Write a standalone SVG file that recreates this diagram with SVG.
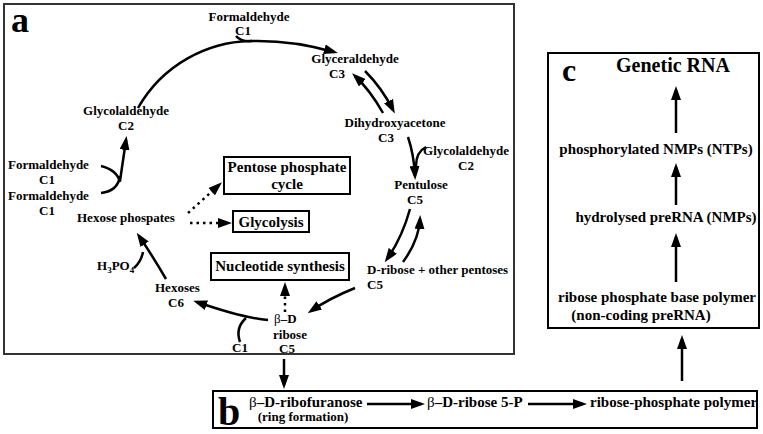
<svg xmlns="http://www.w3.org/2000/svg" width="763" height="434" viewBox="0 0 763 434">
<defs>
<style>
.t{font-family:"Liberation Serif","Times New Roman",serif;font-weight:bold;font-size:13px;fill:#000}
.m{text-anchor:middle}
.bx{font-size:15px}
.big{font-size:36px}
.gr{font-size:20px}
.fr{fill:#fff;stroke:#000;stroke-width:2}
.ln{fill:none;stroke:#000;stroke-width:2.5}
.ar{fill:none;stroke:#000;stroke-width:2.5;marker-end:url(#ah)}
.dt{fill:none;stroke:#000;stroke-width:2.5;stroke-dasharray:2.5 4;marker-end:url(#ah)}
.reg{font-weight:normal}
.sub{font-size:9px}
</style>
<marker id="ah" viewBox="0 0 14 10" refX="10" refY="5" markerWidth="14" markerHeight="10" markerUnits="userSpaceOnUse" orient="auto">
<path d="M0,0 L14,5 L0,10 z" fill="#000"/>
</marker>
</defs>
<rect width="763" height="434" fill="#fff"/>

<g id="panel-a">
<rect x="4" y="4" width="510" height="350" fill="#fff" stroke="#333" stroke-width="2"/>
<text class="t big" x="11" y="32">a</text>
</g>
<g id="panel-b">
<rect class="fr" x="213" y="391" width="544" height="37"/>
<text class="t big" x="218" y="425" style="font-size:40px">b</text>
</g>
<g id="panel-c">
<rect class="fr" x="548" y="53" width="211" height="275"/>
<text class="t big" x="562" y="81" style="font-size:32px">c</text>
</g>

<g id="formaldehyde-top"><text class="t m" x="249" y="21">Formaldehyde</text><text class="t m" x="243" y="35">C1</text></g>
<g id="glyceraldehyde"><text class="t m" x="355" y="63">Glyceraldehyde</text><text class="t m" x="337" y="78">C3</text></g>
<g id="glycolaldehyde-left"><text class="t m" x="126" y="115">Glycolaldehyde</text><text class="t m" x="126" y="130">C2</text></g>
<g id="dihydroxyacetone"><text class="t m" x="395" y="127">Dihydroxyacetone</text><text class="t m" x="386" y="142">C3</text></g>
<g id="glycolaldehyde-right"><text class="t m" x="466" y="155">Glycolaldehyde</text><text class="t m" x="466" y="170">C2</text></g>
<g id="pentulose"><text class="t m" x="421" y="189">Pentulose</text><text class="t m" x="415" y="204">C5</text></g>
<g id="d-ribose"><text class="t" x="367" y="274">D-ribose + other pentoses</text><text class="t" x="367" y="289">C5</text></g>
<g id="beta-d-ribose"><text class="t" x="274" y="323"><tspan class="reg">β</tspan>–D</text><text class="t" x="273" y="339">ribose</text><text class="t" x="279" y="353">C5</text></g>
<g id="c1-bottom"><text class="t" x="232" y="352">C1</text></g>
<g id="hexoses"><text class="t" x="155" y="292">Hexoses</text><text class="t m" x="176" y="307">C6</text></g>
<g id="h3po4"><text class="t" x="97" y="270">H<tspan class="sub" dy="3">3</tspan><tspan dy="-3">PO</tspan><tspan class="sub" dy="3">4</tspan></text></g>
<g id="hexose-phosphates"><text class="t" x="77" y="222">Hexose phospates</text></g>
<g id="formaldehyde-left-1"><text class="t" x="8" y="169">Formaldehyde</text><text class="t m" x="47" y="184">C1</text></g>
<g id="formaldehyde-left-2"><text class="t" x="8" y="200">Formaldehyde</text><text class="t m" x="47" y="215">C1</text></g>

<g id="pentose-phosphate-cycle">
<rect class="fr" x="224" y="157" width="126" height="37"/>
<text class="t m bx" x="287" y="172">Pentose phosphate</text>
<text class="t m bx" x="287" y="189">cycle</text>
</g>
<g id="glycolysis">
<rect class="fr" x="233" y="211" width="76" height="21"/>
<text class="t m bx" x="271" y="227">Glycolysis</text>
</g>
<g id="nucleotide-synthesis">
<rect class="fr" x="211" y="253" width="138" height="27"/>
<text class="t m bx" x="280" y="271">Nucleotide synthesis</text>
</g>

<g id="ribofuranose"><text class="t bx" x="249" y="407"><tspan class="reg">β</tspan>–D-ribofuranose</text><text class="t m" x="303" y="421">(ring formation)</text></g>
<g id="ribose-5p"><text class="t bx" x="427" y="407"><tspan class="reg">β</tspan>–D-ribose 5-P</text></g>
<g id="rp-polymer"><text class="t bx" x="590" y="407">ribose-phosphate polymer</text></g>

<g id="genetic-rna"><text class="t m gr" x="673" y="72">Genetic RNA</text></g>
<g id="ntps"><text class="t m bx" x="656" y="154">phosphorylated NMPs (NTPs)</text></g>
<g id="nmps"><text class="t m bx" x="666" y="222">hydrolysed preRNA (NMPs)</text></g>
<g id="base-polymer"><text class="t m bx" x="657" y="302">ribose phosphate base polymer</text><text class="t m bx" x="641" y="320">(non-coding preRNA)</text></g>

<g id="connectors">
<path class="ar" d="M138,108 C163,64 208,42 250,41 C285,40 310,45 334,52"/>
<path class="ln" d="M236,36 Q241,42 252,41"/>
<path class="ar" d="M120,181 Q123,160 126,140"/>
<path class="ln" d="M101,166 Q117,170 120,182"/>
<path class="ln" d="M101,193 Q118,191 120,176"/>
<path class="ar" d="M383,113 Q370,90 355,76"/>
<path class="ar" d="M365,71 Q382,88 393,110"/>
<path class="ar" d="M408,137 Q414,155 415,176"/>
<path class="ln" d="M426,147 Q416,152 416,166"/>
<path class="ar" d="M410,209 Q402,238 387,259"/>
<path class="ar" d="M403,262 Q419,240 420,219"/>
<path class="ar" d="M355,288 Q330,298 311,311"/>
<path class="ar" d="M268,320 C245,318 220,310 197,302"/>
<path class="ln" d="M240,342 Q235,328 246,318"/>
<path class="ar" d="M166,279 Q152,255 139,236"/>
<path class="ln" d="M134,268 Q141,262 143,252"/>
<path class="dt" d="M188,213 L219,185"/>
<path class="dt" d="M190,223 L228,223"/>
<path class="dt" d="M285,312 L285,286"/>
<path class="ar" d="M284,359 L284,385"/>
<path class="ar" d="M367,404 L421,404"/>
<path class="ar" d="M528,404 L583,404"/>
<path class="ar" d="M682,381 L682,339"/>
<path class="ar" d="M676,133 L676,90"/>
<path class="ar" d="M676,205 L676,167"/>
<path class="ar" d="M676,282 L676,237"/>
</g>
</svg>
